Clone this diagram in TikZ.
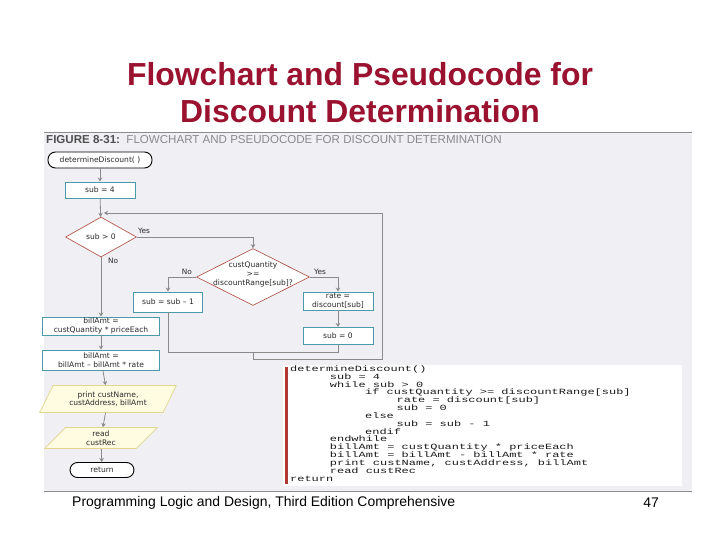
\documentclass[tikz,border=0pt]{standalone}
\usepackage{fontspec}
\setmainfont{Liberation Sans}
\setmonofont{Liberation Mono}
\newfontfamily\flowfont{DejaVu Sans}
\usepackage{graphicx}
\usetikzlibrary{shapes.geometric,arrows.meta,positioning,calc}
\definecolor{titlered}{HTML}{9B1230}
\definecolor{figgrey}{HTML}{F0F0F4}
\definecolor{ruleline}{HTML}{8C8C8C}
\definecolor{boxteal}{HTML}{4A9BAA}
\definecolor{diamondred}{HTML}{B2584E}
\definecolor{ioyellow}{HTML}{FFFCE2}
\definecolor{ioedge}{HTML}{E2D68E}
\definecolor{flowgrey}{HTML}{8A8A8A}
\definecolor{codebar}{HTML}{B03A32}
\definecolor{headgrey}{HTML}{505050}
\definecolor{codetext}{HTML}{1A1A1A}
\definecolor{flowink}{HTML}{2A2A2A}

\tikzset{
  flowtext/.style={font=\flowfont\fontsize{7.6}{8.8}\selectfont, text=flowink, align=center, inner sep=0.5bp},
  flowbox/.style={flowtext, draw=boxteal, line width=0.9bp, fill=white, minimum height=18bp},
  decision/.style={diamond, draw=diamondred, line width=0.7bp, fill=white, inner sep=0bp},
  iobox/.style={flowtext, trapezium, trapezium left angle=60, trapezium right angle=120,
    trapezium stretches=true, draw=ioedge, line width=0.7bp, fill=ioyellow},
  terminal/.style={flowtext, draw=black, line width=0.9bp, fill=white, rounded corners=7.5bp},
  flowline/.style={draw=flowgrey, line width=0.8bp},
  flowarrow/.style={flowline, -{Stealth[length=4bp,width=4.5bp]}},
  branchlabel/.style={font=\flowfont\fontsize{7.4}{8}\selectfont, text=flowink, inner sep=1bp}
}

\begin{document}
\begin{tikzpicture}[x=1bp, y=-1bp]
\useasboundingbox (0,0) rectangle (720,540);
\fill[white] (0,0) rectangle (720,540);
% title
\node[font=\fontsize{32}{37}\selectfont\bfseries, text=titlered, align=center] (title) at (360,92.5)
  {Flowchart and Pseudocode for\\Discount Determination};
% figure panel
\fill[figgrey] (44,132) rectangle (692,491);
\draw[ruleline, line width=0.8bp] (44,132) -- (692,132);
\draw[ruleline, line width=0.8bp] (44,491) -- (692,491);
\node[anchor=west, font=\fontsize{11.6}{12}\selectfont, inner sep=0pt] (figcap) at (46,140)
  {\color{headgrey}\bfseries FIGURE 8-31:\ \ \mdseries\color{flowgrey}FLOWCHART AND PSEUDOCODE FOR DISCOUNT DETERMINATION};

% flowchart
\node[terminal, minimum width=104bp, minimum height=16bp] (start) at (100,160) {determineDiscount( )};
\node[flowbox, minimum width=70bp, minimum height=16bp] (init) at (100,190) {sub = 4};
\node[decision, minimum width=71bp, minimum height=40bp] (loopq) at (101,237) {};
\node[flowtext] (loopqtext) at (loopq) {sub > 0};
\node[decision, minimum width=113bp, minimum height=57bp] (rangeq) at (253,277) {};
\node[flowtext] (rangeqtext) at (253,274.5) {custQuantity\\>=\\discountRange[sub]?};
\node[flowbox, minimum width=69bp, minimum height=20bp] (dec) at (168,302) {sub = sub \textendash\ 1};
\node[flowbox, minimum width=70bp] (rate) at (338,301) {rate =\\discount[sub]};
\node[flowbox, minimum width=70bp, minimum height=17bp] (zero) at (338,336) {sub = 0};
\node[flowbox, minimum width=117bp] (calcbill) at (101,326) {billAmt =\\custQuantity * priceEach};
\node[flowbox, minimum width=117bp, minimum height=20bp] (calcdisc) at (101,360) {billAmt =\\billAmt \textendash\ billAmt * rate};
\node[iobox, minimum width=137bp, minimum height=27bp] (printout) at (108,399) {print custName,\\custAddress, billAmt};
\node[iobox, minimum width=113bp, minimum height=21bp] (readrec) at (101,438) {read\\custRec};
\node[terminal, minimum width=64bp, minimum height=15bp] (finish) at (102,470) {return};

\coordinate (joinpt) at (253,352);
\coordinate (loopback) at (382,213);
\coordinate (loopentry) at (104,213);

\draw[flowarrow] (start) -- (init);
\draw[flowarrow] (init) -- (loopq);
\draw[flowarrow] (loopq.east) -| (rangeq.north);
\draw[flowarrow] (loopq) -- (calcbill);
\draw[flowarrow] (rangeq.west) -| (dec.north);
\draw[flowarrow] (rangeq.east) -| (rate.north);
\draw[flowarrow] (rate) -- (zero);
\draw[flowline] (dec.south) |- (joinpt);
\draw[flowline] (zero.south) |- (joinpt);
\draw[flowarrow] (joinpt) -- ++(0,7) -| (loopback) -- (loopentry);
\draw[flowarrow] (calcbill) -- (calcdisc);
\draw[flowarrow] (calcdisc) -- (printout);
\draw[flowarrow] (printout) -- (readrec);
\draw[flowarrow] (readrec) -- (finish);

\node[branchlabel, anchor=south west] at ([yshift=2bp]loopq.east) {Yes};
\node[branchlabel, anchor=north west] at ([xshift=6bp]loopq.south) {No};
\node[branchlabel, anchor=south east] at ([xshift=-3bp,yshift=1bp]rangeq.west) {No};
\node[branchlabel, anchor=south west] at ([xshift=3bp,yshift=1bp]rangeq.east) {Yes};

% pseudocode
\fill[white] (283,365) rectangle (682,486);
\fill[codebar] (285,367) rectangle (288,484);
\node[anchor=north west, inner sep=0pt, text=codetext] (pseudo) at (290,365.5) {\scalebox{1.5}[1]{%
  \parbox[t]{280bp}{\fontsize{8}{7.86}\selectfont\ttfamily\lineskiplimit=-100bp\raggedright
  determineDiscount()\\
  \hspace*{26.5bp}sub = 4\\
  \hspace*{26.5bp}while sub > 0\\
  \hspace*{50bp}if custQuantity >= discountRange[sub]\\
  \hspace*{71bp}rate = discount[sub]\\
  \hspace*{71bp}sub = 0\\
  \hspace*{50bp}else\\
  \hspace*{71bp}sub = sub - 1\\
  \hspace*{50bp}endif\\
  \hspace*{26.5bp}endwhile\\
  \hspace*{26.5bp}billAmt = custQuantity * priceEach\\
  \hspace*{26.5bp}billAmt = billAmt - billAmt * rate\\
  \hspace*{26.5bp}print custName, custAddress, billAmt\\
  \hspace*{26.5bp}read custRec\\
  return}}};

% footer
\node[anchor=west, inner sep=0pt, font=\fontsize{14}{16}\selectfont] (footer) at (72,503)
  {Programming Logic and Design, Third Edition Comprehensive};
\node[font=\fontsize{14}{16}\selectfont] (pagenum) at (651,503) {47};
\end{tikzpicture}
\end{document}
